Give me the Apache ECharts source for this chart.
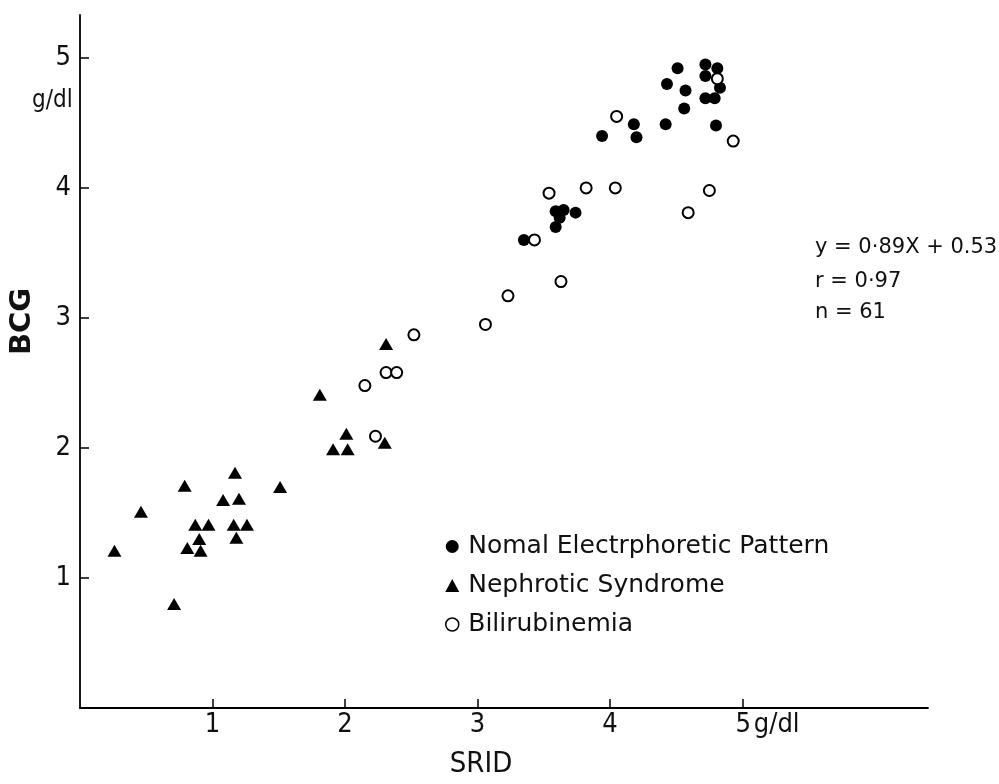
<!DOCTYPE html>
<html>
<head>
<meta charset="utf-8">
<script src="https://cdn.jsdelivr.net/npm/echarts@6/dist/echarts.min.js"></script>
<style>
html,body{margin:0;padding:0;background:#fff;}
#chart{width:999px;height:784px;}
</style>
</head>
<body>
<div id="chart"></div>
<script>
// ---- data ----
const normalX = [4.51,4.72,4.81,4.72,4.43,4.57,4.83,4.72,4.79,4.56,4.18,4.42,4.80,3.94,4.20,3.59,3.65,3.74,3.62,3.59,3.35];
const normalY = [4.92,4.95,4.92,4.86,4.80,4.75,4.77,4.69,4.69,4.61,4.49,4.49,4.48,4.40,4.39,3.82,3.83,3.81,3.77,3.70,3.60];

const nephX = [2.31,1.81,2.01,2.30,1.91,2.02,1.51,1.17,0.79,1.08,1.20,0.46,0.87,0.97,1.16,1.26,1.18,0.90,0.81,0.91,0.26,0.71];
const nephY = [2.80,2.41,2.11,2.04,1.99,1.99,1.70,1.81,1.71,1.60,1.61,1.51,1.41,1.41,1.41,1.41,1.31,1.30,1.23,1.21,1.21,0.80];

const biliX = [4.81,4.05,4.93,3.54,3.82,4.04,4.75,4.59,3.43,3.63,3.23,3.06,2.52,2.31,2.39,2.15,2.23];
const biliY = [4.84,4.55,4.36,3.96,4.00,4.00,3.98,3.81,3.60,3.28,3.17,2.95,2.87,2.58,2.58,2.48,2.09];

const seriesNames = ['Nomal Electrphoretic Pattern', 'Nephrotic Syndrome', 'Bilirubinemia'];
const xTickValues = [1, 2, 3, 4, 5];
const xTickLabels = ['1', '2', '3', '4', '5g/dl'];
const yTickValues = [1, 2, 3, 4, 5];
const yTickLabels = ['1', '2', '3', '4', '5'];
const xAxisTitle = 'SRID';
const yAxisTitle = 'BCG';
const yUnit = 'g/dl';
const statLines = ['y = 0·89X + 0.53', 'r = 0·97', 'n = 61'];

function pairs(xs, ys) { return xs.map((x, i) => [x, ys[i]]); }

const tickFont = "'DejaVu Sans Condensed', 'Liberation Sans Narrow', 'DejaVu Sans', sans-serif";
const textFont = "'DejaVu Sans', sans-serif";

const chart = echarts.init(document.getElementById('chart'), null, {renderer: 'canvas'});
chart.setOption({
  backgroundColor: '#ffffff',
  animation: false,
  grid: {left: 73.5, top: 15, right: 71, bottom: 59, containLabel: false},
  xAxis: {
    type: 'value', min: 0, max: 6.4, interval: 1,
    splitLine: {show: false},
    axisLine: {lineStyle: {color: '#000', width: 1.8}},
    axisTick: {inside: true, length: 9, lineStyle: {color: '#000', width: 1.5}, customValues: xTickValues},
    axisLabel: {
      color: '#111', fontSize: 27, fontFamily: tickFont, margin: 3,
      customValues: xTickValues,
      formatter: function (v) {
        const i = xTickValues.indexOf(v);
        if (i < 0) return '';
        const s = xTickLabels[i];
        if (s.length > 1) return '{n|' + s.charAt(0) + '}{u|' + s.slice(1) + '}';
        return s;
      },
      rich: {
        n: {fontSize: 27, fontFamily: tickFont, color: '#111', padding: [0, 0, 0, 50]},
        u: {fontSize: 27, fontFamily: tickFont, color: '#111', padding: [0, 0, 0, 3]}
      }
    },
    name: xAxisTitle, nameLocation: 'middle', nameGap: 42,
    nameTextStyle: {fontSize: 29, fontFamily: tickFont, color: '#111', padding: [0, 46, 0, 0]}
  },
  yAxis: {
    type: 'value', min: 0, max: 5.33, interval: 1,
    splitLine: {show: false},
    axisLine: {lineStyle: {color: '#000', width: 1.8}},
    axisTick: {inside: true, length: 9, lineStyle: {color: '#000', width: 1.5}, customValues: yTickValues},
    axisLabel: {
      color: '#111', fontSize: 27, fontFamily: tickFont, margin: 9,
      customValues: yTickValues,
      formatter: function (v) {
        const i = yTickValues.indexOf(v);
        return i < 0 ? '' : yTickLabels[i];
      }
    },
    name: yAxisTitle, nameLocation: 'middle', nameGap: 43, nameRotate: 90,
    nameTextStyle: {fontSize: 29, fontWeight: 'bold', fontFamily: textFont, color: '#111', padding: [0, 0, 0, 80]}
  },
  legend: {
    orient: 'vertical', left: 440, top: 529,
    itemGap: 14, itemWidth: 14, itemHeight: 13,
    textStyle: {fontSize: 25, fontFamily: textFont, color: '#111', padding: [0, 0, 0, 4]},
    data: [
      {name: seriesNames[0], icon: 'circle', itemStyle: {color: '#000', opacity: 1}},
      {name: seriesNames[1], icon: 'triangle', itemStyle: {color: '#000', opacity: 1}},
      {name: seriesNames[2], icon: 'circle', itemStyle: {color: '#fff', borderColor: '#000', borderWidth: 1.5, opacity: 1}}
    ]
  },
  graphic: [
    {type: 'text', left: 32, top: 89, style: {text: yUnit, fontSize: 24, fontFamily: tickFont, fill: '#111'}},
    {type: 'text', left: 815, top: 237, style: {text: statLines[0], fontSize: 21, fontFamily: textFont, fill: '#111'}},
    {type: 'text', left: 815, top: 271, style: {text: statLines[1], fontSize: 21, fontFamily: textFont, fill: '#111'}},
    {type: 'text', left: 815, top: 302, style: {text: statLines[2], fontSize: 21, fontFamily: textFont, fill: '#111'}}
  ],
  series: [
    {
      name: seriesNames[0], type: 'scatter', symbol: 'circle', symbolSize: 12,
      itemStyle: {color: '#000', opacity: 1}, data: pairs(normalX, normalY), z: 2
    },
    {
      name: seriesNames[1], type: 'scatter', symbol: 'triangle', symbolSize: [14, 12],
      itemStyle: {color: '#000', opacity: 1}, data: pairs(nephX, nephY), z: 2
    },
    {
      name: seriesNames[2], type: 'scatter', symbol: 'circle', symbolSize: 11,
      itemStyle: {color: '#fff', borderColor: '#000', borderWidth: 2, opacity: 1}, data: pairs(biliX, biliY), z: 3
    }
  ]
});
</script>
</body>
</html>
